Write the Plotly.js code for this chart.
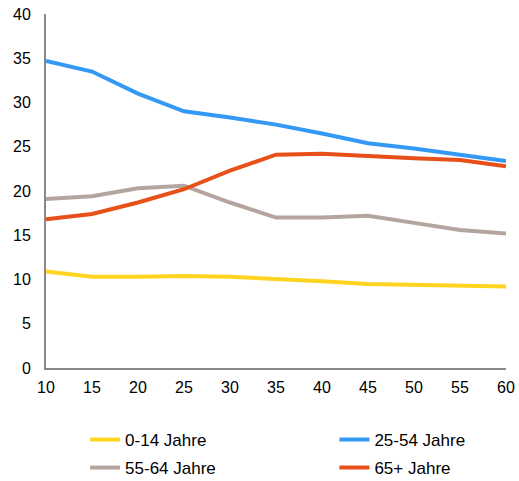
<!DOCTYPE html>
<html>
<head>
<meta charset="utf-8">
<script src="https://cdn.plot.ly/plotly-3.0.1.min.js"></script>
<style>html,body{margin:0;padding:0;background:#fff;}#chart{width:519px;height:481px;}</style>
</head>
<body>
<div id="chart"></div>
<script>
var years = [10, 15, 20, 25, 30, 35, 40, 45, 50, 55, 60];
var seriesNames = ["0-14 Jahre", "25-54 Jahre", "55-64 Jahre", "65+ Jahre"];
var age0_14 = [10.9, 10.3, 10.3, 10.4, 10.3, 10.1, 9.8, 9.5, 9.4, 9.3, 9.2];
var age25_54 = [34.7, 33.5, 31.0, 29.0, 28.3, 27.5, 26.5, 25.4, 24.8, 24.1, 23.4];
var age55_64 = [19.1, 19.4, 20.3, 20.6, 18.7, 17.0, 17.0, 17.2, 16.4, 15.6, 15.2];
var age65plus = [16.8, 17.4, 18.7, 20.2, 22.3, 24.1, 24.2, 23.9, 23.7, 23.5, 22.8];
var colors = ["#FFD41F", "#3399F5", "#B4A69E", "#E8501A"];
var values = [age0_14, age25_54, age55_64, age65plus];
var legendIds = ["legend", "legend2", "legend3", "legend4"];

var traces = values.map(function (v, i) {
  return {
    x: years, y: v, type: "scatter", mode: "lines", name: seriesNames[i],
    line: {color: colors[i], width: 4}, legend: legendIds[i]
  };
});

var font = {family: "Liberation Sans, Arial, sans-serif", size: 16, color: "#000"};
var legFont = {family: "Liberation Sans, Arial, sans-serif", size: 17, color: "#000"};
function leg(x, y) {
  return {x: x, y: y, xanchor: "left", yanchor: "middle", orientation: "v",
          font: legFont, bgcolor: "rgba(0,0,0,0)", borderwidth: 0};
}
var layout = {
  width: 519, height: 481,
  margin: {l: 46, r: 13, t: 14, b: 113, autoexpand: false},
  paper_bgcolor: "#fff", plot_bgcolor: "#fff",
  font: font,
  showlegend: true,
  xaxis: {
    range: [10, 60], tickvals: years, ticktext: years.map(String),
    showgrid: false, zeroline: false, showline: true, linecolor: "#888", linewidth: 2,
    ticks: "", ticklabelstandoff: 4, tickfont: font, fixedrange: true
  },
  yaxis: {
    range: [0, 40], dtick: 5, tick0: 0,
    showgrid: false, zeroline: false, showline: true, linecolor: "#888", linewidth: 2,
    ticks: "", ticklabelstandoff: 10, tickfont: font, fixedrange: true
  },
  legend: leg(0.085, -0.2034),
  legend2: leg(0.627, -0.2034),
  legend3: leg(0.085, -0.2825),
  legend4: leg(0.627, -0.2825)
};
Plotly.newPlot("chart", traces, layout, {displayModeBar: false, staticPlot: true});
</script>
</body>
</html>
